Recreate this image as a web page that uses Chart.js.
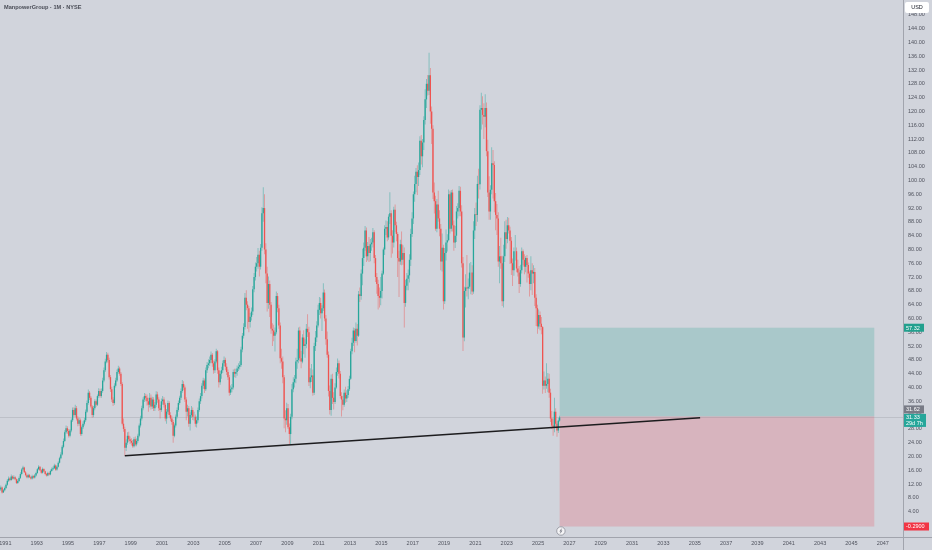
<!DOCTYPE html>
<html>
<head>
<meta charset="utf-8">
<title>ManpowerGroup · 1M · NYSE</title>
<script src="https://cdn.jsdelivr.net/npm/chart.js@4.4.1/dist/chart.umd.min.js"></script>
<style>
  html, body { margin: 0; padding: 0; background: #d1d4dc; }
  canvas { display: block; }
</style>
</head>
<body>
<canvas id="chart" width="932" height="550"></canvas>
<script>
// monthly candles from Sep 1990 to May 2026, x unit = months since Jan 1991
const firstMonth = -4;

const opens = [
  10.4, 11.0, 9.6, 10.2,
  10.9, 11.8, 13.0, 13.6, 13.2, 14.2, 13.6, 14.0, 13.4, 12.3, 12.9, 13.8,
  14.9, 16.2, 16.8, 15.4, 14.6, 14.0, 14.6, 14.0, 13.6, 14.3, 13.9, 14.5,
  15.2, 16.3, 17.0, 16.0, 15.3, 16.4, 15.7, 14.9, 14.5, 15.2, 14.8, 15.8,
  16.3, 16.6, 17.4, 16.2, 17.0, 18.2, 19.5, 20.6, 22.8, 24.5, 27.0, 28.2,
  27.4, 26.0, 27.5, 30.5, 33.5, 32.0, 34.0, 31.0, 29.5, 30.5, 26.5, 28.5,
  29.5, 30.5, 33.0, 35.5, 38.5, 37.0, 34.5, 32.0, 34.0, 36.0, 35.0, 37.5,
  39.0, 37.5, 39.0, 42.0, 45.0, 47.5, 49.5, 48.0, 43.0, 39.5, 36.5, 35.5,
  40.5, 42.0, 44.5, 45.5, 44.0, 41.0, 29.5, 28.0, 22.5, 24.0, 26.0, 25.0,
  24.5, 24.0, 23.0, 25.0, 23.5, 24.5, 26.0, 29.0, 31.0, 34.0, 36.5, 37.5,
  37.0, 36.0, 35.0, 37.0, 34.5, 36.5, 34.0, 35.0, 38.0, 36.5, 34.0, 33.5,
  36.0, 36.5, 35.0, 31.0, 33.0, 35.5, 32.0, 31.0, 30.0, 26.0, 29.0, 31.5,
  33.5, 35.5, 37.0, 39.0, 41.0, 40.0, 36.5, 33.0, 34.0, 29.5, 32.0, 33.5,
  31.5, 31.5, 29.5, 30.5, 33.5, 36.0, 37.5, 40.5, 42.0, 39.5, 45.0, 46.5,
  47.0, 48.0, 49.5, 47.0, 45.0, 47.5, 50.5, 45.0, 41.5, 44.0, 45.0, 47.0,
  48.0, 46.0, 44.5, 43.0, 38.5, 39.5, 40.0, 44.5, 44.0, 44.5, 45.5, 46.0,
  46.5, 51.0, 55.0, 57.5, 66.0, 64.0, 63.0, 59.0, 60.5, 62.0, 68.5, 72.0,
  75.0, 76.0, 78.5, 75.0, 80.5, 90.5, 92.0, 80.0, 73.0, 64.5, 70.0, 64.0,
  57.0, 56.5, 55.0, 56.0, 66.5, 63.0, 58.0, 48.5, 47.5, 43.0, 31.0, 30.5,
  34.0, 28.5, 26.5, 31.5, 39.5, 41.5, 42.5, 47.5, 48.0, 56.5, 48.5, 47.5,
  54.5, 52.0, 52.5, 57.0, 56.0, 41.5, 43.0, 43.5, 38.5, 52.0, 54.5, 58.0,
  62.5, 64.5, 61.5, 63.0, 67.5, 60.0, 54.0, 49.5, 39.0, 33.5, 42.5, 37.0,
  35.8, 40.0, 44.5, 47.0, 44.0, 37.5, 36.5, 35.0, 38.5, 36.8, 37.8, 39.5,
  42.5, 50.5, 53.0, 56.5, 53.5, 57.0, 55.0, 67.0, 66.5, 73.0, 77.5, 80.5,
  85.5, 78.0, 81.0, 79.0, 81.5, 82.0, 85.0, 77.5, 72.0, 70.0, 66.5, 66.0,
  68.0, 73.0, 80.0, 86.0, 86.5, 83.5, 89.5, 90.5, 84.0, 82.0, 91.5, 87.0,
  84.5, 77.5, 76.5, 81.5, 77.0, 79.0, 64.5, 69.5, 71.5, 72.5, 77.0, 84.5,
  89.0, 96.0, 99.0, 102.5, 101.0, 103.0, 111.5, 107.0, 111.0, 117.5, 123.5, 128.0,
  126.0, 130.5, 120.0, 115.0, 96.5, 94.0, 86.0, 93.0, 89.0, 86.0, 76.5, 80.5,
  65.0, 79.0, 82.0, 82.7, 96.0, 86.0, 96.5, 87.0, 82.0, 84.0, 91.0, 92.0,
  97.0, 91.0, 76.0, 54.5, 68.0, 69.0, 68.7, 69.2, 73.3, 73.3, 67.8, 85.5,
  90.2, 90.0, 99.0, 98.9, 120.5, 121.0, 119.0, 118.5, 121.0, 108.5, 96.5, 91.0,
  97.3, 105.0, 104.5, 94.0, 90.0, 89.0, 76.5, 78.0, 76.0, 65.0, 78.0, 85.0,
  83.0, 87.0, 85.5, 82.5, 76.0, 74.0, 79.5, 79.5, 74.5, 73.3, 70.0, 74.0,
  79.5, 77.0, 75.0, 77.5, 75.5, 73.0, 70.0, 74.0, 73.0, 73.5, 66.0, 63.0,
  57.7, 61.0, 58.5, 57.5, 40.5, 42.0, 40.5, 41.0, 42.5, 38.5, 31.0, 29.0,
  28.5, 33.0, 29.5, 27.5, 30.4
];

const highs = [
  11.6, 11.3, 10.6, 11.3,
  12.2, 13.5, 14.2, 14.0, 14.8, 14.5, 14.6, 14.3, 13.6, 13.4, 14.2, 15.4,
  16.6, 17.3, 17.0, 15.8, 15.0, 15.0, 14.9, 14.3, 14.7, 14.6, 14.9, 15.6,
  16.7, 17.5, 17.2, 16.3, 16.8, 16.6, 15.9, 15.2, 15.6, 15.4, 16.2, 16.8,
  17.1, 17.9, 17.7, 17.4, 18.6, 19.9, 21.2, 23.3, 25.2, 27.6, 29.0, 28.8,
  28.0, 28.0, 31.0, 34.2, 34.3, 35.0, 34.6, 31.7, 31.2, 31.0, 29.0, 30.2,
  31.2, 33.6, 36.2, 39.4, 39.0, 37.5, 34.9, 34.6, 36.6, 36.5, 38.0, 39.8,
  39.6, 39.7, 42.8, 45.8, 48.3, 50.3, 50.1, 48.6, 43.6, 40.2, 37.2, 41.2,
  42.8, 45.2, 46.3, 46.0, 44.5, 41.5, 31.0, 28.6, 25.0, 27.0, 27.2, 25.8,
  25.3, 24.8, 25.6, 25.8, 25.2, 26.6, 29.6, 31.8, 34.7, 37.2, 38.4, 38.2,
  38.0, 37.0, 38.4, 38.0, 37.3, 37.2, 35.8, 38.9, 38.8, 37.2, 35.0, 36.8,
  37.5, 37.2, 35.6, 33.8, 36.2, 36.0, 32.8, 31.8, 30.6, 29.6, 32.2, 34.2,
  36.2, 37.6, 39.7, 42.2, 41.8, 40.6, 37.2, 35.0, 34.6, 32.8, 34.6, 34.2,
  33.0, 32.2, 31.6, 34.2, 36.8, 38.4, 41.2, 42.8, 42.6, 45.8, 47.4, 48.2,
  49.0, 50.4, 50.0, 47.8, 48.2, 51.2, 50.9, 45.8, 44.8, 46.0, 47.8, 49.0,
  48.6, 47.0, 45.2, 43.6, 40.6, 41.0, 45.2, 45.4, 45.4, 46.4, 47.0, 47.6,
  51.8, 55.8, 58.6, 67.4, 68.2, 65.0, 63.6, 61.6, 63.2, 69.4, 73.2, 76.2,
  77.8, 80.4, 79.6, 81.6, 92.2, 98.0, 96.0, 81.8, 75.0, 72.2, 71.0, 64.8,
  58.6, 58.2, 57.4, 67.8, 67.4, 64.0, 58.8, 51.2, 49.0, 43.6, 33.4, 35.6,
  35.2, 29.6, 32.4, 41.0, 43.0, 43.6, 48.6, 51.2, 57.4, 57.6, 50.6, 55.4,
  56.6, 54.0, 58.4, 61.2, 57.6, 45.6, 46.8, 45.2, 53.0, 56.4, 59.2, 64.0,
  66.2, 66.0, 63.8, 70.2, 68.4, 61.0, 56.2, 50.4, 40.6, 43.8, 44.0, 38.6,
  41.2, 45.8, 48.4, 47.8, 44.8, 38.6, 37.6, 39.4, 40.2, 39.2, 40.4, 43.4,
  51.2, 54.4, 57.4, 57.2, 58.8, 58.4, 68.0, 69.0, 74.2, 80.2, 82.0, 86.8,
  86.4, 82.2, 83.6, 83.0, 83.4, 86.2, 85.6, 78.4, 73.2, 71.2, 69.0, 72.0,
  73.8, 80.6, 87.0, 88.4, 88.2, 90.2, 96.6, 91.4, 85.6, 92.4, 93.0, 88.0,
  85.0, 79.6, 82.8, 85.2, 81.2, 80.6, 71.2, 73.2, 74.2, 78.6, 86.0, 90.8,
  96.8, 101.4, 103.6, 104.4, 105.2, 112.8, 113.2, 112.0, 118.6, 126.4, 129.4, 130.6,
  137.0, 132.6, 121.4, 116.0, 99.4, 95.6, 94.6, 97.0, 91.4, 87.4, 84.6, 81.4,
  80.4, 85.8, 84.4, 97.4, 97.0, 97.2, 97.4, 88.4, 86.8, 92.6, 93.4, 98.4,
  98.2, 92.8, 77.8, 69.2, 72.8, 78.4, 71.6, 76.0, 76.4, 75.4, 88.2, 92.0,
  93.6, 101.4, 103.4, 121.8, 125.4, 124.4, 122.4, 125.0, 122.6, 111.8, 101.2, 98.6,
  109.6, 108.8, 105.6, 96.4, 93.2, 90.8, 81.0, 83.4, 78.2, 81.4, 88.2, 88.6,
  89.4, 89.2, 86.6, 83.6, 77.4, 80.6, 84.2, 80.6, 77.0, 75.2, 75.6, 80.6,
  80.0, 78.6, 78.0, 78.4, 76.2, 73.6, 78.0, 76.0, 75.4, 74.6, 67.0, 64.0,
  62.6, 62.0, 60.4, 57.8, 44.6, 43.2, 47.0, 44.2, 44.0, 39.6, 33.2, 31.0,
  37.0, 34.0, 30.2, 31.2, 31.8
];

const lows = [
  10.0, 9.3, 9.4, 9.9,
  10.6, 11.5, 12.6, 12.8, 13.0, 13.3, 13.3, 13.1, 12.0, 12.0, 12.6, 13.5,
  14.6, 15.9, 15.2, 14.3, 13.7, 13.7, 13.8, 13.3, 13.3, 13.6, 13.6, 14.2,
  15.0, 16.0, 15.8, 15.0, 15.1, 15.5, 14.6, 14.2, 14.3, 14.5, 14.6, 15.6,
  16.0, 16.4, 15.9, 15.9, 16.8, 18.0, 19.2, 20.3, 22.4, 24.2, 26.6, 26.6,
  25.5, 25.6, 27.0, 30.0, 31.5, 31.5, 30.4, 28.8, 28.9, 26.0, 26.0, 28.0,
  29.0, 30.0, 32.6, 35.0, 36.4, 34.0, 31.2, 31.4, 33.4, 34.4, 34.6, 37.0,
  37.0, 37.0, 38.5, 41.5, 44.5, 47.0, 47.2, 42.3, 38.7, 35.8, 34.6, 35.0,
  40.0, 41.6, 44.0, 43.4, 40.4, 29.0, 27.2, 20.2, 21.6, 23.4, 24.3, 23.6,
  23.2, 22.5, 22.6, 23.0, 23.0, 24.0, 25.6, 28.4, 30.4, 33.4, 35.8, 36.0,
  34.8, 33.0, 34.2, 33.6, 33.8, 33.2, 33.2, 34.3, 35.6, 33.2, 31.0, 33.0,
  35.0, 34.2, 30.2, 29.5, 32.4, 31.4, 30.2, 29.2, 24.0, 25.6, 28.4, 31.0,
  33.0, 35.0, 36.4, 38.5, 39.2, 35.8, 30.5, 31.6, 28.6, 27.5, 31.2, 30.6,
  30.4, 28.6, 28.4, 29.8, 33.0, 35.2, 36.8, 39.6, 38.4, 39.0, 44.2, 45.6,
  46.2, 47.2, 46.0, 44.0, 44.2, 47.0, 44.0, 40.0, 40.8, 42.5, 44.2, 46.2,
  45.0, 43.6, 42.2, 37.6, 37.8, 38.6, 39.4, 43.0, 42.8, 43.4, 44.8, 45.2,
  46.0, 50.2, 54.2, 56.8, 62.4, 57.0, 56.0, 57.4, 59.4, 61.0, 67.6, 71.0,
  73.6, 74.4, 72.2, 74.2, 79.6, 88.0, 78.6, 70.2, 62.0, 62.8, 60.4, 55.6,
  52.0, 53.4, 50.4, 55.4, 61.8, 57.0, 47.0, 45.4, 41.2, 28.2, 27.0, 29.2,
  28.0, 23.6, 23.4, 30.8, 38.6, 40.0, 41.2, 45.4, 47.0, 47.6, 45.6, 47.0,
  49.6, 48.6, 51.4, 54.6, 40.4, 39.8, 41.6, 37.6, 37.8, 50.6, 53.2, 57.4,
  61.0, 60.0, 56.4, 62.2, 59.2, 52.4, 48.6, 37.4, 32.2, 31.8, 35.2, 33.6,
  35.2, 39.6, 43.4, 42.6, 36.8, 31.6, 33.4, 34.4, 35.6, 35.8, 37.0, 39.0,
  42.2, 49.6, 52.0, 50.2, 53.0, 52.2, 54.6, 64.8, 65.4, 69.6, 75.2, 79.6,
  76.4, 76.8, 76.4, 76.6, 79.6, 80.6, 76.0, 70.6, 67.2, 62.6, 63.2, 63.8,
  65.8, 72.6, 78.4, 84.2, 82.4, 82.8, 87.4, 77.6, 78.8, 80.6, 85.0, 82.4,
  72.0, 66.2, 75.6, 75.4, 75.6, 57.4, 63.4, 68.2, 68.2, 70.4, 75.2, 83.6,
  87.4, 93.8, 96.6, 95.8, 98.4, 101.6, 104.6, 103.8, 108.8, 116.2, 121.0, 124.6,
  124.8, 116.4, 110.6, 94.6, 90.4, 85.4, 85.0, 88.0, 83.8, 74.0, 73.6, 62.6,
  64.2, 76.8, 79.4, 82.4, 84.6, 85.2, 85.2, 79.6, 80.4, 82.2, 89.0, 89.6,
  89.6, 74.8, 50.6, 53.4, 63.2, 66.4, 65.6, 68.6, 67.0, 66.8, 67.2, 83.0,
  86.8, 88.0, 94.8, 97.4, 114.8, 116.2, 112.0, 115.4, 107.0, 95.2, 88.6, 88.6,
  96.0, 94.8, 90.8, 85.6, 84.2, 75.0, 70.2, 74.4, 63.6, 63.2, 76.4, 80.2,
  81.8, 84.6, 75.8, 72.6, 69.4, 72.4, 76.8, 73.4, 72.2, 67.4, 69.2, 73.0,
  75.4, 72.8, 73.4, 70.4, 71.8, 66.4, 68.2, 66.8, 70.2, 63.6, 57.8, 55.6,
  57.0, 56.6, 55.4, 38.2, 39.4, 38.4, 39.6, 38.6, 37.0, 30.0, 28.0, 26.0,
  27.0, 28.6, 25.7, 26.8, 30.1
];

const closes = [
  11.0, 9.6, 10.2, 10.9,
  11.8, 13.0, 13.6, 13.2, 14.2, 13.6, 14.0, 13.4, 12.3, 12.9, 13.8, 14.9,
  16.2, 16.8, 15.4, 14.6, 14.0, 14.6, 14.0, 13.6, 14.3, 13.9, 14.5, 15.2,
  16.3, 17.0, 16.0, 15.3, 16.4, 15.7, 14.9, 14.5, 15.2, 14.8, 15.8, 16.3,
  16.6, 17.4, 16.2, 17.0, 18.2, 19.5, 20.6, 22.8, 24.5, 27.0, 28.2, 27.4,
  26.0, 27.5, 30.5, 33.5, 32.0, 34.0, 31.0, 29.5, 30.5, 26.5, 28.5, 29.5,
  30.5, 33.0, 35.5, 38.5, 37.0, 34.5, 32.0, 34.0, 36.0, 35.0, 37.5, 39.0,
  37.5, 39.0, 42.0, 45.0, 47.5, 49.5, 48.0, 43.0, 39.5, 36.5, 35.5, 40.5,
  42.0, 44.5, 45.5, 44.0, 41.0, 29.5, 28.0, 22.5, 24.0, 26.0, 25.0, 24.5,
  24.0, 23.0, 25.0, 23.5, 24.5, 26.0, 29.0, 31.0, 34.0, 36.5, 37.5, 37.0,
  36.0, 35.0, 37.0, 34.5, 36.5, 34.0, 35.0, 38.0, 36.5, 34.0, 33.5, 36.0,
  36.5, 35.0, 31.0, 33.0, 35.5, 32.0, 31.0, 30.0, 26.0, 29.0, 31.5, 33.5,
  35.5, 37.0, 39.0, 41.0, 40.0, 36.5, 33.0, 34.0, 29.5, 32.0, 33.5, 31.5,
  31.5, 29.5, 30.5, 33.5, 36.0, 37.5, 40.5, 42.0, 39.5, 45.0, 46.5, 47.0,
  48.0, 49.5, 47.0, 45.0, 47.5, 50.5, 45.0, 41.5, 44.0, 45.0, 47.0, 48.0,
  46.0, 44.5, 43.0, 38.5, 39.5, 40.0, 44.5, 44.0, 44.5, 45.5, 46.0, 46.5,
  51.0, 55.0, 57.5, 66.0, 64.0, 63.0, 59.0, 60.5, 62.0, 68.5, 72.0, 75.0,
  76.0, 78.5, 75.0, 80.5, 90.5, 92.0, 80.0, 73.0, 64.5, 70.0, 64.0, 57.0,
  56.5, 55.0, 56.0, 66.5, 63.0, 58.0, 48.5, 47.5, 43.0, 31.0, 30.5, 34.0,
  28.5, 26.5, 31.5, 39.5, 41.5, 42.5, 47.5, 48.0, 56.5, 48.5, 47.5, 54.5,
  52.0, 52.5, 57.0, 56.0, 41.5, 43.0, 43.5, 38.5, 52.0, 54.5, 58.0, 62.5,
  64.5, 61.5, 63.0, 67.5, 60.0, 54.0, 49.5, 39.0, 33.5, 42.5, 37.0, 35.8,
  40.0, 44.5, 47.0, 44.0, 37.5, 36.5, 35.0, 38.5, 36.8, 37.8, 39.5, 42.5,
  50.5, 53.0, 56.5, 53.5, 57.0, 55.0, 67.0, 66.5, 73.0, 77.5, 80.5, 85.5,
  78.0, 81.0, 79.0, 81.5, 82.0, 85.0, 77.5, 72.0, 70.0, 66.5, 66.0, 68.0,
  73.0, 80.0, 86.0, 86.5, 83.5, 89.5, 90.5, 84.0, 82.0, 91.5, 87.0, 84.5,
  77.5, 76.5, 81.5, 77.0, 79.0, 64.5, 69.5, 71.5, 72.5, 77.0, 84.5, 89.0,
  96.0, 99.0, 102.5, 101.0, 103.0, 111.5, 107.0, 111.0, 117.5, 123.5, 128.0, 126.0,
  130.5, 120.0, 115.0, 96.5, 94.0, 86.0, 93.0, 89.0, 86.0, 76.5, 80.5, 65.0,
  79.0, 82.0, 82.7, 96.0, 86.0, 96.5, 87.0, 82.0, 84.0, 91.0, 92.0, 97.0,
  91.0, 76.0, 54.5, 68.0, 69.0, 68.7, 69.2, 73.3, 73.3, 67.8, 85.5, 90.2,
  90.0, 99.0, 98.9, 120.5, 121.0, 119.0, 118.5, 121.0, 108.5, 96.5, 91.0, 97.3,
  105.0, 104.5, 94.0, 90.0, 89.0, 76.5, 78.0, 76.0, 65.0, 78.0, 85.0, 83.0,
  87.0, 85.5, 82.5, 76.0, 74.0, 79.5, 79.5, 74.5, 73.3, 70.0, 74.0, 79.5,
  77.0, 75.0, 77.5, 75.5, 73.0, 70.0, 74.0, 73.0, 73.5, 66.0, 63.0, 57.7,
  61.0, 58.5, 57.5, 40.5, 42.0, 40.5, 41.0, 42.5, 38.5, 31.0, 29.0, 28.5,
  33.0, 29.5, 27.5, 30.4, 31.33
];

// axis ticks
const xTickYears = [1991, 1993, 1995, 1997, 1999, 2001, 2003, 2005, 2007, 2009,
  2011, 2013, 2015, 2017, 2019, 2021, 2023, 2025, 2027, 2029, 2031, 2033, 2035,
  2037, 2039, 2041, 2043, 2045, 2047];
const priceTicks = [4, 8, 12, 16, 20, 24, 28, 32, 36, 40, 44, 48, 52, 56, 60, 64,
  68, 72, 76, 80, 84, 88, 92, 96, 100, 104, 108, 112, 116, 120, 124, 128, 132,
  136, 140, 144, 148];

// drawings: trend line and long position
const trendMonths = [91.5, 532.1];
const trendPrices = [20.2, 31.24];
const positionMonths = [424.5, 665.5];
const targetPrice = 57.32;
const entryPrice = 31.62;
const stopPrice = -0.29;
const lastPrice = 31.33;
const earningsMonth = 425.5;

const UP = '#26a69a', DOWN = '#ef5350';
const FONT = '"Liberation Sans", Arial, sans-serif';

const candleX = closes.map((c, i) => firstMonth + i + 0.5);
const isUp = closes.map((c, i) => c >= opens[i]);
const wickData = closes.map((c, i) => ({ x: candleX[i], y: [lows[i], highs[i]] }));
const bodyData = closes.map((c, i) => ({ x: candleX[i], y: [opens[i], c] }));

function badge(ctx, x, yTop, w, h, fill, lines) {
  ctx.fillStyle = fill;
  ctx.fillRect(x, yTop, w, h);
  ctx.fillStyle = '#ffffff';
  ctx.font = '5.5px ' + FONT;
  ctx.textAlign = 'left';
  ctx.textBaseline = 'middle';
  const lh = h / lines.length;
  lines.forEach((t, k) => ctx.fillText(t, x + 2, yTop + lh * (k + 0.5) + 0.3));
}

const tvOverlay = {
  id: 'tvOverlay',
  beforeDraw(chart) {
    const ctx = chart.ctx;
    ctx.save();
    ctx.fillStyle = '#d1d4dc';
    ctx.fillRect(0, 0, chart.width, chart.height);
    ctx.restore();
  },
  beforeDatasetsDraw(chart) {
    const { ctx, chartArea, scales: { x, y } } = chart;
    const x0 = x.getPixelForValue(positionMonths[0]);
    const x1 = x.getPixelForValue(positionMonths[1]);
    const yT = y.getPixelForValue(targetPrice);
    const yE = y.getPixelForValue(entryPrice);
    const yS = y.getPixelForValue(stopPrice);
    ctx.save();
    ctx.fillStyle = 'rgba(8, 153, 129, 0.2)';
    ctx.fillRect(x0, yT, x1 - x0, yE - yT);
    ctx.fillStyle = 'rgba(242, 54, 69, 0.2)';
    ctx.fillRect(x0, yE, x1 - x0, yS - yE);
    // last price line
    const yL = Math.round(y.getPixelForValue(lastPrice)) + 0.5;
    ctx.strokeStyle = 'rgba(120, 123, 134, 0.22)';
    ctx.lineWidth = 1;
    ctx.beginPath();
    ctx.moveTo(chartArea.left, yL);
    ctx.lineTo(chartArea.right, yL);
    ctx.stroke();
    ctx.restore();
  },
  afterDraw(chart) {
    const { ctx, chartArea, scales: { x, y } } = chart;
    ctx.save();
    // separators
    ctx.strokeStyle = '#a1a4ad';
    ctx.lineWidth = 1;
    ctx.beginPath();
    ctx.moveTo(chartArea.right + 0.5, 0);
    ctx.lineTo(chartArea.right + 0.5, chart.height);
    ctx.moveTo(0, chartArea.bottom + 0.5);
    ctx.lineTo(chart.width, chartArea.bottom + 0.5);
    ctx.stroke();

    // title
    ctx.fillStyle = '#4a4d57';
    ctx.font = 'bold 5.6px ' + FONT;
    ctx.textAlign = 'left';
    ctx.textBaseline = 'middle';
    ctx.fillText('ManpowerGroup · 1M · NYSE', 4, 7);

    // currency box
    ctx.fillStyle = '#ffffff';
    ctx.beginPath();
    ctx.roundRect(905, 2, 24, 11, 2);
    ctx.fill();
    ctx.fillStyle = '#131722';
    ctx.font = '5.5px ' + FONT;
    ctx.textAlign = 'center';
    ctx.fillText('USD', 917, 7.8);

    // price scale badges
    const ax = chartArea.right + 1;
    const yT = y.getPixelForValue(targetPrice);
    const yE = y.getPixelForValue(entryPrice);
    const yL = y.getPixelForValue(lastPrice);
    const yS = y.getPixelForValue(stopPrice);
    badge(ctx, ax, yT - 4, 20, 8, '#22a08e', [targetPrice.toFixed(2)]);
    badge(ctx, ax, yE - 11, 20, 8, '#787b86', [entryPrice.toFixed(2)]);
    badge(ctx, ax, yL - 3.5, 22, 13, UP, [lastPrice.toFixed(2), '29d 7h']);
    badge(ctx, ax, yS - 4, 25, 8, '#f23645', [stopPrice.toFixed(4)]);

    // earnings marker on the time axis
    const ex = x.getPixelForValue(earningsMonth);
    const ey = chartArea.bottom - 6;
    ctx.fillStyle = '#f4f4f6';
    ctx.strokeStyle = '#8a8d97';
    ctx.lineWidth = 0.8;
    ctx.beginPath();
    ctx.arc(ex, ey, 4.2, 0, Math.PI * 2);
    ctx.fill();
    ctx.stroke();
    ctx.strokeStyle = '#6a6d78';
    ctx.lineWidth = 0.7;
    ctx.beginPath();
    ctx.moveTo(ex + 0.8, ey - 2.4);
    ctx.lineTo(ex - 1, ey + 0.3);
    ctx.lineTo(ex + 1, ey - 0.3);
    ctx.lineTo(ex - 0.8, ey + 2.4);
    ctx.stroke();
    ctx.restore();
  }
};

new Chart(document.getElementById('chart'), {
  type: 'bar',
  data: {
    datasets: [
      {
        type: 'line',
        label: 'trend',
        data: trendMonths.map((m, i) => ({ x: m, y: trendPrices[i] })),
        borderColor: '#1c1c1e',
        borderWidth: 1.5,
        pointRadius: 0,
        order: 0
      },
      {
        label: 'bodies',
        data: bodyData,
        backgroundColor: isUp.map(u => u ? UP : DOWN),
        grouped: false,
        barPercentage: 1,
        categoryPercentage: 1,
        inflateAmount: 0,
        borderWidth: 0,
        order: 1
      },
      {
        label: 'wicks',
        data: wickData,
        backgroundColor: isUp.map(u => u ? 'rgba(38,166,154,0.55)' : 'rgba(239,83,80,0.55)'),
        grouped: false,
        barPercentage: 1,
        categoryPercentage: 1,
        maxBarThickness: 0.8,
        inflateAmount: 0,
        borderWidth: 0,
        order: 2
      }
    ]
  },
  options: {
    responsive: false,
    animation: false,
    layout: { padding: 0 },
    plugins: {
      legend: { display: false },
      tooltip: { enabled: false }
    },
    scales: {
      x: {
        type: 'linear',
        min: -4.11,
        max: 687.5,
        offset: false,
        grid: { display: false, drawTicks: false, offset: false },
        border: { display: false },
        afterBuildTicks: (s) => { s.ticks = xTickYears.map(yr => ({ value: (yr - 1991) * 12 })); },
        afterFit: (s) => { s.height = 13; s.paddingLeft = 0; s.paddingRight = 0; },
        ticks: {
          autoSkip: false,
          maxRotation: 0,
          padding: 3,
          color: '#50535e',
          font: { family: FONT, size: 5.5 },
          callback: (v) => String(1991 + v / 12)
        }
      },
      y: {
        position: 'right',
        min: -3.33,
        max: 152.3,
        grid: { display: false, drawTicks: false },
        border: { display: false },
        afterBuildTicks: (s) => { s.ticks = priceTicks.map(v => ({ value: v })); },
        afterFit: (s) => { s.width = 29; s.paddingTop = 0; s.paddingBottom = 0; },
        ticks: {
          autoSkip: false,
          padding: 5,
          color: '#50535e',
          font: { family: FONT, size: 5.5 },
          callback: (v) => Number(v).toFixed(2)
        }
      }
    }
  },
  plugins: [tvOverlay]
});
</script>
</body>
</html>
